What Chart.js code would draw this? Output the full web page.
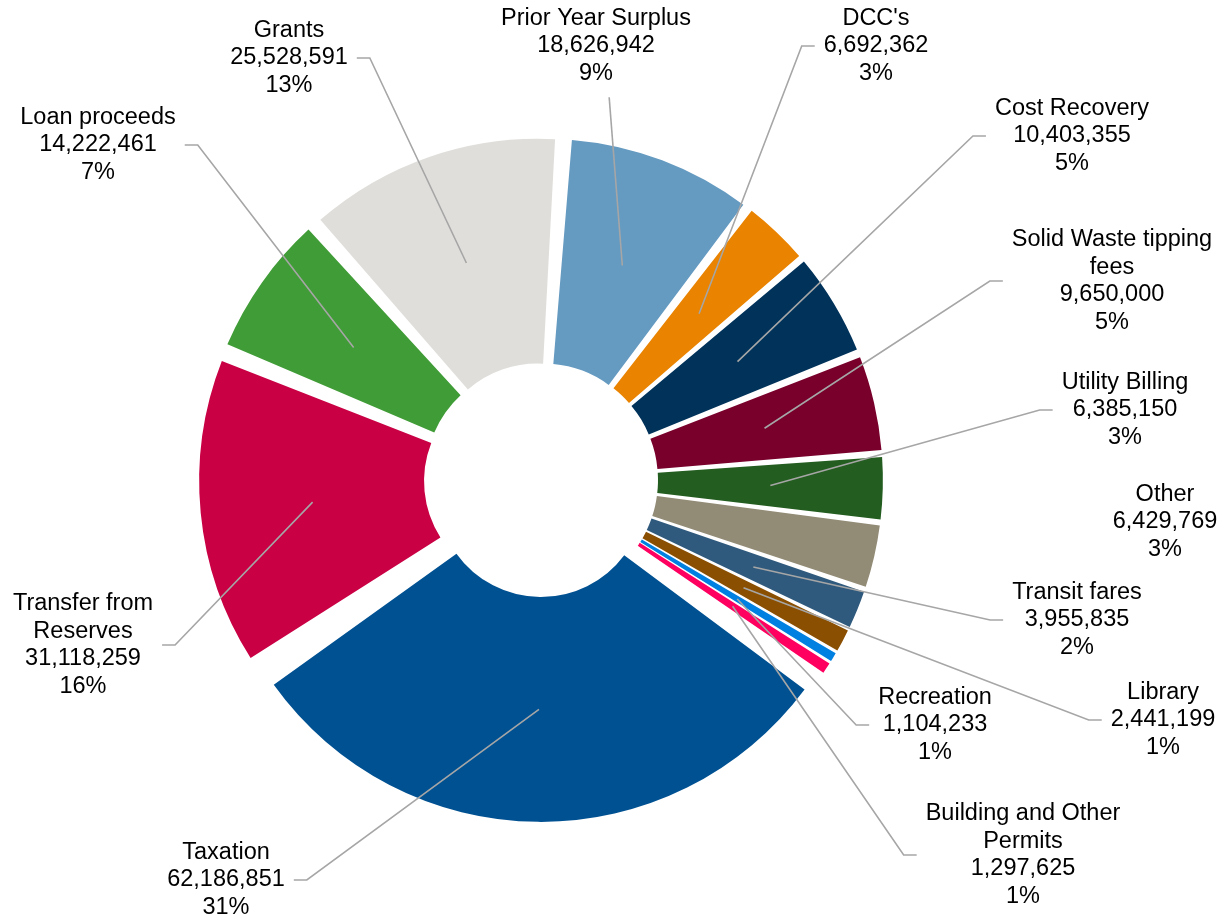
<!DOCTYPE html>
<html lang="en">
<head>
  <meta charset="UTF-8">
  <script src="https://cdn.jsdelivr.net/npm/chart.js"></script>
  <title>Revenue sources</title>
  <style>
    html, body { margin: 0; padding: 0; background: #fff; }
    #wrap { width: 1227px; height: 920px; }
  </style>
</head>
<body>
  <div id="wrap"><canvas id="myChart" width="1227" height="920"></canvas></div>
  <script>
    // data, clockwise from the top
    const categories = ['Prior Year Surplus', "DCC's", 'Cost Recovery', 'Solid Waste tipping\nfees', 'Utility Billing',
      'Other', 'Transit fares', 'Library', 'Recreation', 'Building and Other\nPermits', 'Taxation',
      'Transfer from\nReserves', 'Loan proceeds', 'Grants'];
    const amounts = [18626942, 6692362, 10403355, 9650000, 6385150, 6429769, 3955835, 2441199, 1104233, 1297625,
      62186851, 31118259, 14222461, 25528591];
    const colors = ['#659ac1', '#e98300', '#00325a', '#78002b', '#245d20', '#928b75', '#2f5a7d', '#8a4f00',
      '#0080e0', '#ff0060', '#005192', '#c90043', '#409c36', '#dfdeda'];

    // where each label block sits, relative to the doughnut centre, and from which side its leader line comes
    const labelAt = [[55, -434, 'bottom'], [335, -434, 'left'], [531, -344, 'left'], [571, -199, 'left'],
      [584, -70, 'left'], [624, 42, 'none'], [536, 140, 'left'], [622, 240, 'left'], [394, 245, 'left'],
      [482, 375, 'left'], [-315, 400, 'right'], [-458, 165, 'right'], [-443, -335, 'right'], [-252, -422, 'right']];

    const total = amounts.reduce((a, b) => a + b, 0);
    const EXPLODE = 14;   // px every slice is pushed out
    const SPACING = 16;

    // chart.js pushes thin arcs further out than wide ones, so scale the offset to get the same push for all
    function sliceOffset(c) {
      const circ = Math.min(Math.PI, c.raw / total * 2 * Math.PI);
      return EXPLODE * 4 / (2 - Math.sin(circ));
    }

    const leaderLabels = {
      id: 'leaderLabels',
      afterDatasetsDraw(chart) {
        const ctx = chart.ctx;
        const meta = chart.getDatasetMeta(0);
        const lh = 27.5;
        ctx.save();
        ctx.font = '23.5px "Liberation Sans", Arial, sans-serif';
        ctx.textAlign = 'center';
        ctx.textBaseline = 'middle';
        meta.data.forEach((arc, i) => {
          const p = arc.getProps(['x', 'y', 'startAngle', 'endAngle', 'innerRadius', 'outerRadius'], true);
          const mid = (p.startAngle + p.endAngle) / 2;
          const r = (p.innerRadius + p.outerRadius) / 2 + SPACING / 2 + EXPLODE;
          const ax = p.x + Math.cos(mid) * r;
          const ay = p.y + Math.sin(mid) * r;
          const lines = categories[i].split('\n').concat([
            amounts[i].toLocaleString('en-US'),
            Math.round(amounts[i] / total * 100) + '%'
          ]);
          const [dx, dy, side] = labelAt[i];
          const cx = p.x + dx, cy = p.y + dy;
          const w = Math.max(...lines.map(s => ctx.measureText(s).width));
          const top = cy - lh * lines.length / 2;

          ctx.strokeStyle = '#a6a6a6';
          ctx.lineWidth = 1.6;
          ctx.beginPath();
          if (side === 'left') {
            const ex = cx - w / 2 - 9;
            ctx.moveTo(ax, ay);
            ctx.lineTo(ex - 13, cy);
            ctx.lineTo(ex, cy);
          } else if (side === 'right') {
            const ex = cx + w / 2 + 9;
            ctx.moveTo(ax, ay);
            ctx.lineTo(ex + 13, cy);
            ctx.lineTo(ex, cy);
          } else if (side === 'bottom') {
            ctx.moveTo(ax, ay);
            ctx.lineTo(cx + (ax - cx) * 0.5, top + lh * lines.length + 10);
          }
          ctx.stroke();

          ctx.fillStyle = '#000';
          lines.forEach((s, k) => ctx.fillText(s, cx, top + lh * (k + 0.5)));
        });
        ctx.restore();
      }
    };

    new Chart(document.getElementById('myChart'), {
      type: 'doughnut',
      data: {
        labels: categories,
        datasets: [{
          data: amounts,
          backgroundColor: colors,
          borderWidth: 0,
          offset: sliceOffset,
          spacing: SPACING,
          hoverOffset: 0
        }]
      },
      options: {
        responsive: false,
        animation: false,
        rotation: 4,
        cutout: '29.7%',
        layout: { padding: { left: 187, top: 126, right: 332, bottom: 86 } },
        events: [],
        plugins: {
          legend: { display: false },
          tooltip: { enabled: false }
        }
      },
      plugins: [leaderLabels]
    });
  </script>
</body>
</html>
